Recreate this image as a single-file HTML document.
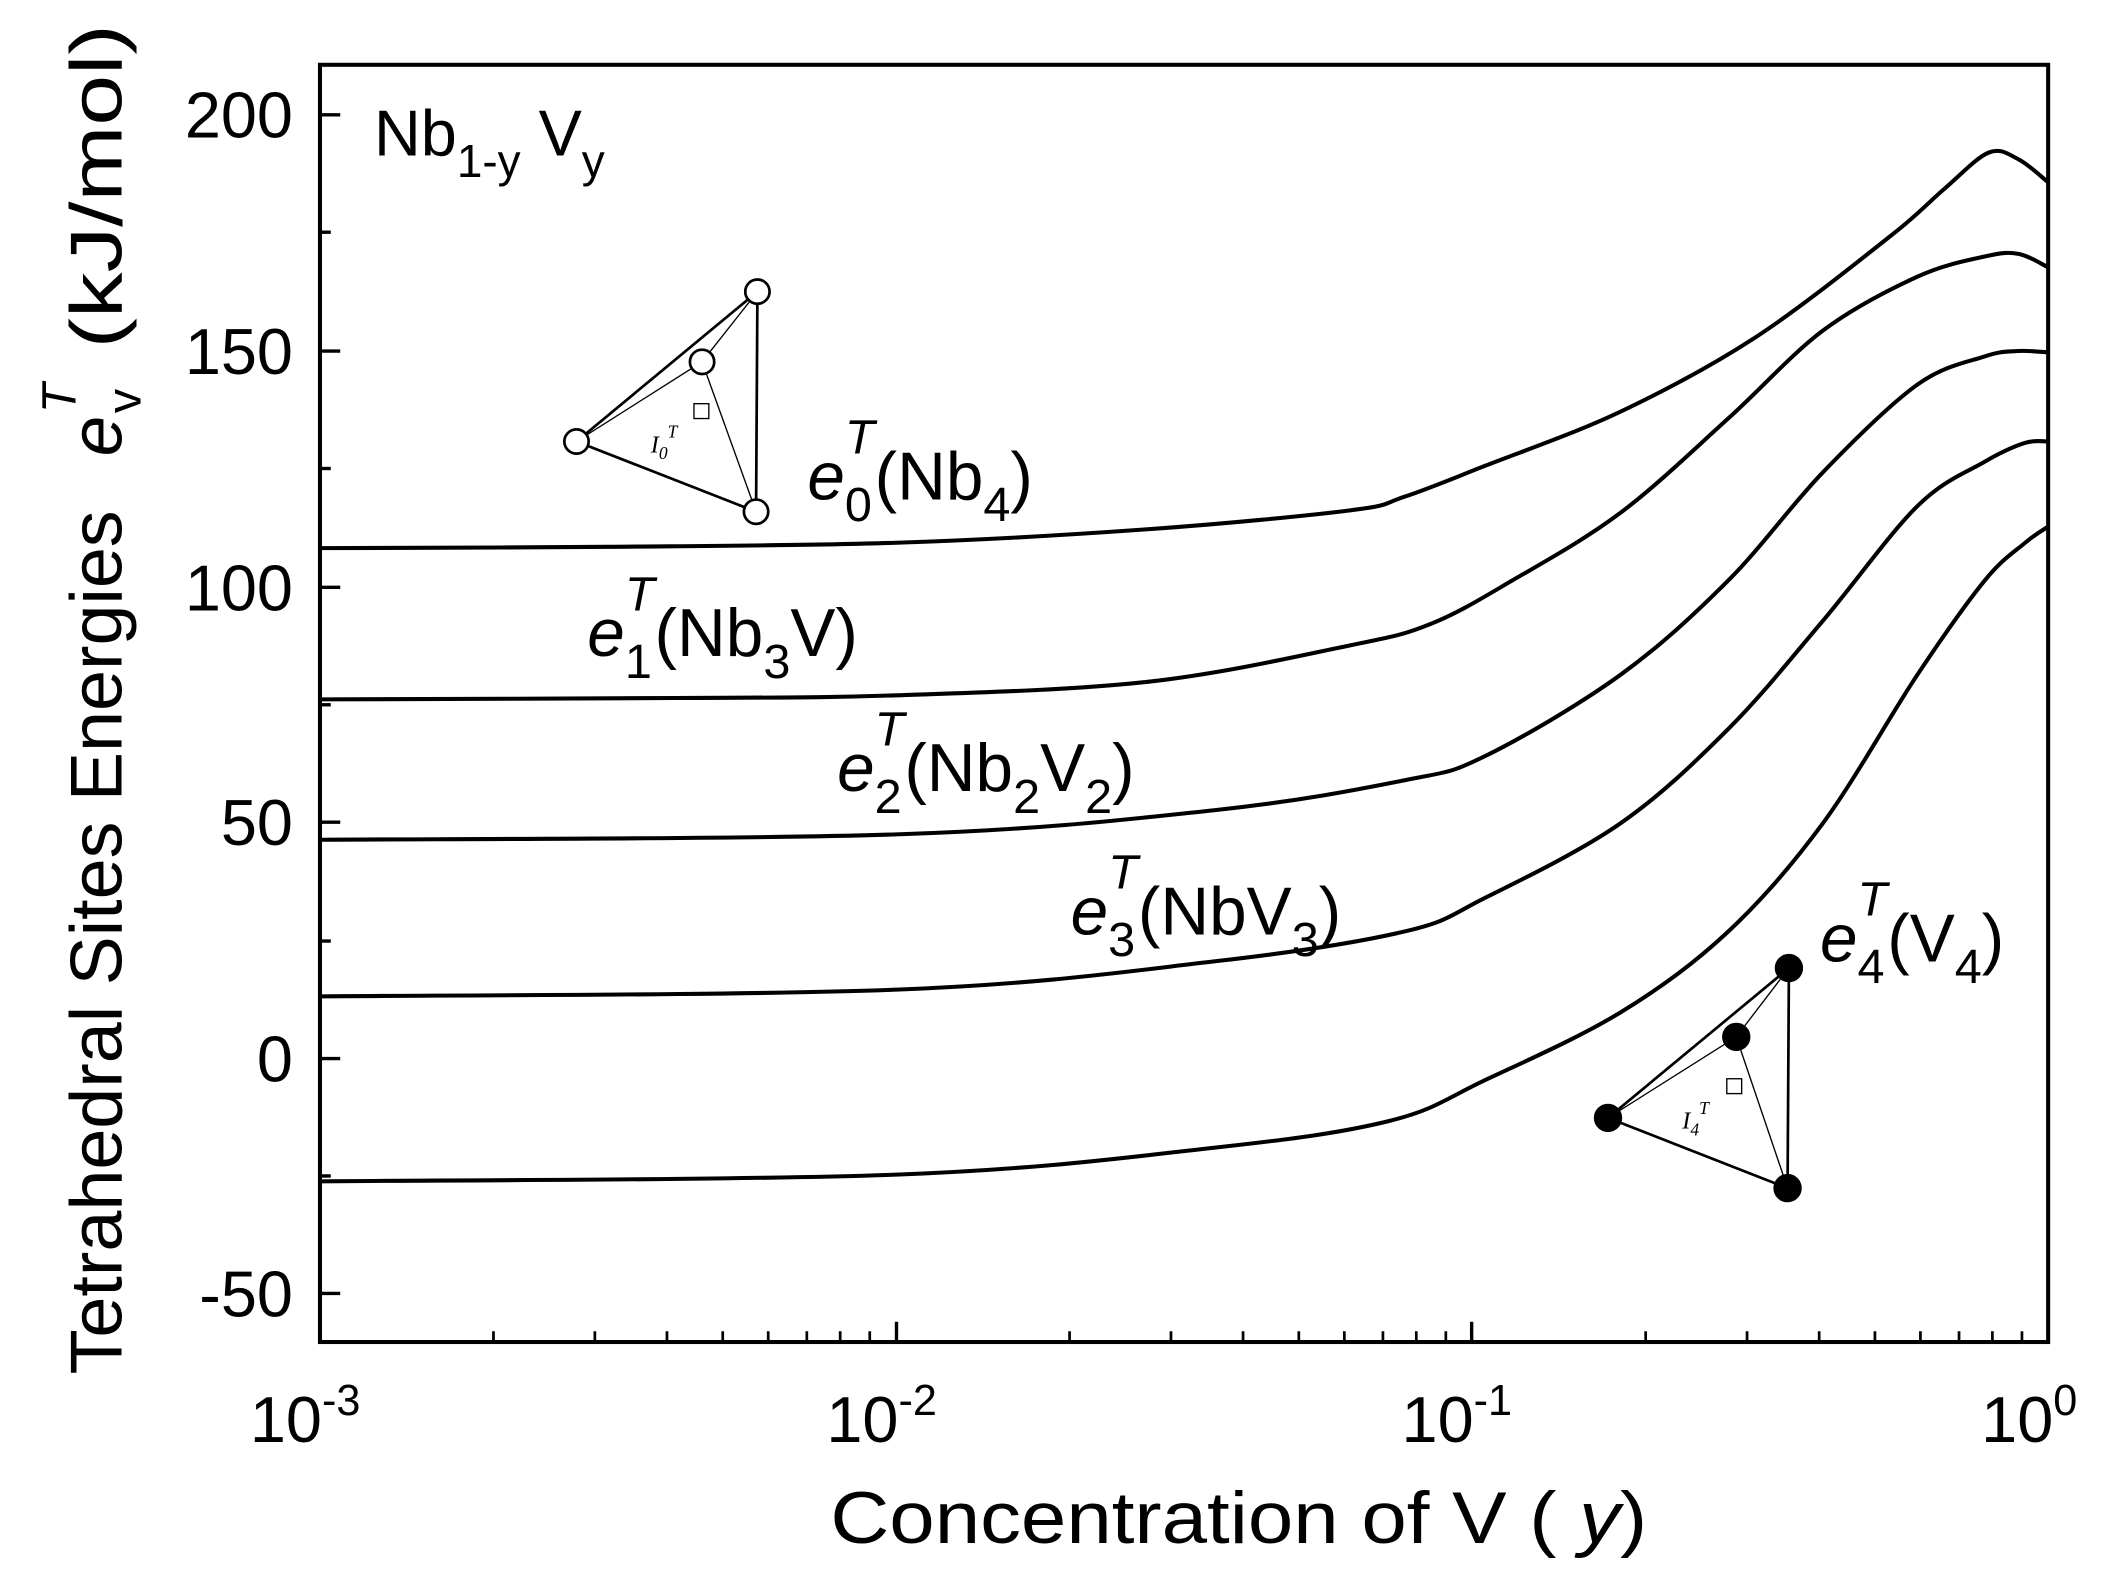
<!DOCTYPE html>
<html><head><style>html,body{margin:0;padding:0;background:#fff}svg{display:block}</style></head>
<body>
<svg width="2117" height="1581" viewBox="0 0 1568 1171" preserveAspectRatio="none" xmlns="http://www.w3.org/2000/svg" font-family="Liberation Sans, Arial, sans-serif">
<rect width="1568" height="1171" fill="#fff"/>
<rect x="237" y="48" width="1280" height="946" fill="none" stroke="#000" stroke-width="3"/>
<g stroke="#000" stroke-width="2.5">
<line x1="237" y1="85" x2="252" y2="85"/><line x1="237" y1="260" x2="252" y2="260"/><line x1="237" y1="435" x2="252" y2="435"/><line x1="237" y1="609" x2="252" y2="609"/><line x1="237" y1="784" x2="252" y2="784"/><line x1="237" y1="958" x2="252" y2="958"/>
<line x1="237" y1="172" x2="245" y2="172"/><line x1="237" y1="347" x2="245" y2="347"/><line x1="237" y1="522" x2="245" y2="522"/><line x1="237" y1="697" x2="245" y2="697"/><line x1="237" y1="871" x2="245" y2="871"/>
<line x1="664" y1="994" x2="664" y2="979"/><line x1="1090" y1="994" x2="1090" y2="979"/>
</g>
<g stroke="#000" stroke-width="2" id="minor">
<line x1="365.5" y1="994" x2="365.5" y2="986"/><line x1="440.6" y1="994" x2="440.6" y2="986"/><line x1="494" y1="994" x2="494" y2="986"/><line x1="535.3" y1="994" x2="535.3" y2="986"/><line x1="569" y1="994" x2="569" y2="986"/><line x1="597.6" y1="994" x2="597.6" y2="986"/><line x1="622.3" y1="994" x2="622.3" y2="986"/><line x1="644.2" y1="994" x2="644.2" y2="986"/>
</g>
<use href="#minor" x="426.7"/><use href="#minor" x="853.4"/>
<g font-size="48" text-anchor="end" fill="#000">
<text x="217" y="102">200</text><text x="217" y="277">150</text><text x="217" y="452">100</text><text x="217" y="626">50</text><text x="217" y="801">0</text><text x="217" y="975">-50</text>
</g>
<g font-size="48" text-anchor="middle">
<text x="226" y="1068">10<tspan font-size="32" dy="-20">-3</tspan></text>
<text x="653" y="1068">10<tspan font-size="32" dy="-20">-2</tspan></text>
<text x="1079" y="1068">10<tspan font-size="32" dy="-20">-1</tspan></text>
<text x="1503" y="1068">10<tspan font-size="32" dy="-20">0</tspan></text>
</g>
<text x="615" y="1143" font-size="54" textLength="605" lengthAdjust="spacingAndGlyphs">Concentration of V  ( <tspan font-style="italic">y</tspan>)</text>
<g transform="translate(90,1018) rotate(-90)" font-size="54">
<text x="0" y="0" textLength="640" lengthAdjust="spacingAndGlyphs">Tetrahedral Sites Energies</text>
<text x="680" y="0" font-style="italic">e</text>
<text x="712" y="14" font-size="36">v</text>
<text x="712" y="-34" font-size="36" font-style="italic">T</text>
<text x="760" y="0" textLength="240" lengthAdjust="spacingAndGlyphs">(kJ/mol)</text>
</g>
<text x="277" y="115" font-size="48">Nb<tspan font-size="34" dy="16">1-y</tspan><tspan dy="-16"> V</tspan><tspan font-size="34" dy="16">y</tspan></text>
<g fill="none" stroke="#000" stroke-width="3" stroke-linejoin="round" id="curves">
<path data-p="237,406 450,405 664,402 850,392 1000,378 1040,368 1100,345 1200,305 1300,250 1400,175 1440,140 1473,113 1495,118 1517,135"/>
<path data-p="237,518 500,517 664,515 850,505 1000,478 1060,462 1120,430 1200,380 1280,310 1350,245 1420,205 1470,190 1495,188 1517,198"/>
<path data-p="237,622 664,618 900,600 1040,578 1100,560 1200,500 1280,430 1350,350 1420,285 1470,264 1495,260 1517,261"/>
<path data-p="237,738 664,733 900,712 1040,690 1100,665 1200,610 1280,540 1350,460 1420,375 1470,342 1500,328 1517,327"/>
<path data-p="237,875 664,870 900,850 1030,830 1100,800 1200,750 1280,690 1350,610 1420,500 1470,430 1500,402 1517,390"/>
</g>
<g font-size="50">
<text x="598" y="370"><tspan font-style="italic">e</tspan><tspan font-size="36" dy="16">0</tspan><tspan font-size="36" font-style="italic" dx="-20" dy="-50">T</tspan><tspan dy="34">(Nb</tspan><tspan font-size="36" dy="16">4</tspan><tspan dy="-16">)</tspan></text>
<text x="435" y="486"><tspan font-style="italic">e</tspan><tspan font-size="36" dy="16">1</tspan><tspan font-size="36" font-style="italic" dx="-20" dy="-50">T</tspan><tspan dy="34">(Nb</tspan><tspan font-size="36" dy="16">3</tspan><tspan dy="-16">V)</tspan></text>
<text x="620" y="586"><tspan font-style="italic">e</tspan><tspan font-size="36" dy="16">2</tspan><tspan font-size="36" font-style="italic" dx="-20" dy="-50">T</tspan><tspan dy="34">(Nb</tspan><tspan font-size="36" dy="16">2</tspan><tspan dy="-16">V</tspan><tspan font-size="36" dy="16">2</tspan><tspan dy="-16">)</tspan></text>
<text x="793" y="692"><tspan font-style="italic">e</tspan><tspan font-size="36" dy="16">3</tspan><tspan font-size="36" font-style="italic" dx="-20" dy="-50">T</tspan><tspan dy="34">(NbV</tspan><tspan font-size="36" dy="16">3</tspan><tspan dy="-16">)</tspan></text>
<text x="1348" y="712"><tspan font-style="italic">e</tspan><tspan font-size="36" dy="16">4</tspan><tspan font-size="36" font-style="italic" dx="-20" dy="-50">T</tspan><tspan dy="34">(V</tspan><tspan font-size="36" dy="16">4</tspan><tspan dy="-16">)</tspan></text>
</g>
<g stroke="#000" fill="none">
<g stroke-width="2"><line x1="427" y1="327" x2="561" y2="216"/><line x1="427" y1="327" x2="560" y2="379"/><line x1="561" y1="216" x2="560" y2="379"/></g>
<g stroke-width="1"><line x1="427" y1="327" x2="520" y2="268"/><line x1="520" y1="268" x2="560" y2="379"/><line x1="520" y1="268" x2="561" y2="216"/></g>
<g fill="#fff" stroke-width="2"><circle cx="427" cy="327" r="9"/><circle cx="561" cy="216" r="9"/><circle cx="560" cy="379" r="9"/><circle cx="520" cy="268" r="9"/></g>
<rect x="514" y="299" width="11" height="11" stroke-width="1"/>
<g stroke-width="2"><line x1="1191" y1="828" x2="1325" y2="717"/><line x1="1191" y1="828" x2="1324" y2="880"/><line x1="1325" y1="717" x2="1324" y2="880"/></g>
<g stroke-width="1"><line x1="1191" y1="828" x2="1286" y2="768"/><line x1="1286" y1="768" x2="1324" y2="880"/><line x1="1286" y1="768" x2="1325" y2="717"/></g>
<g fill="#000"><circle cx="1191" cy="828" r="10"/><circle cx="1325" cy="717" r="10"/><circle cx="1324" cy="880" r="10"/><circle cx="1286" cy="768" r="10"/></g>
<rect x="1279" y="799" width="11" height="11" stroke-width="1"/>
</g>
<text x="482" y="335" font-family="Liberation Serif, serif" font-style="italic" font-size="18">I<tspan font-size="13" dy="5">0</tspan><tspan font-size="13" dy="-16">T</tspan></text>
<text x="1246" y="836" font-family="Liberation Serif, serif" font-style="italic" font-size="18">I<tspan font-size="13" dy="5">4</tspan><tspan font-size="13" dy="-16">T</tspan></text>
</svg>
<script>
document.querySelectorAll('#curves path').forEach(function(p){
 var pts=p.getAttribute('data-p').split(' ').map(function(s){return s.split(',').map(Number);});
 var d='M'+pts[0][0]+','+pts[0][1];
 for(var i=0;i<pts.length-1;i++){
  var p0=pts[i-1]||pts[i],p1=pts[i],p2=pts[i+1],p3=pts[i+2]||p2;
  var c1x=p1[0]+(p2[0]-p0[0])/6,c1y=p1[1]+(p2[1]-p0[1])/6;
  var c2x=p2[0]-(p3[0]-p1[0])/6,c2y=p2[1]-(p3[1]-p1[1])/6;
  d+=' C'+c1x+','+c1y+' '+c2x+','+c2y+' '+p2[0]+','+p2[1];
 }
 p.setAttribute('d',d);
});
</script>
</body></html>
